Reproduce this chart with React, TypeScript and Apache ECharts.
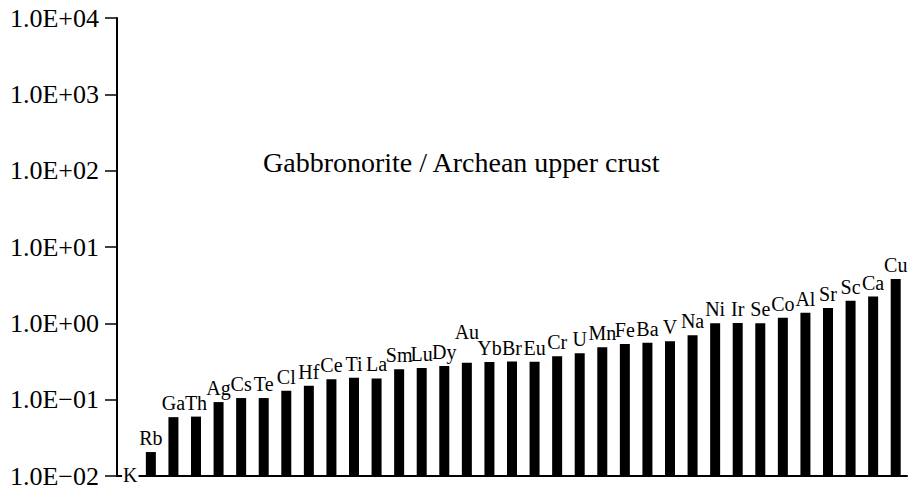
import React, { useEffect, useRef } from "react";
import * as echarts from "echarts";

const elements = ["K","Rb","Ga","Th","Ag","Cs","Te","Cl","Hf","Ce","Ti","La","Sm","Lu","Dy","Au","Yb","Br","Eu","Cr","U","Mn","Fe","Ba","V","Na","Ni","Ir","Se","Co","Al","Sr","Sc","Ca","Cu"];
const ratios = [0.01,0.0206,0.059,0.06,0.093,0.105,0.105,0.131,0.152,0.185,0.194,0.19,0.25,0.26,0.277,0.305,0.312,0.316,0.314,0.37,0.405,0.486,0.537,0.558,0.582,0.698,1.0,1.01,1.0,1.18,1.38,1.59,1.97,2.24,3.82];
const titleText = "Gabbronorite / Archean upper crust";

const SERIF = "'Liberation Serif', 'Times New Roman', serif";

export default function App() {
  const ref = useRef<HTMLDivElement>(null);
  useEffect(() => {
    if (!ref.current) return;
    const chart = echarts.init(ref.current, undefined, { renderer: "svg" });
    const data = elements.map((name, i) => {
      const item: any = { name, value: ratios[i] };
      if (name === "K") {
        item.label = { offset: [2, 13], backgroundColor: "#fff", padding: [0, 1] };
      } else if (name === "Au") {
        item.label = { offset: [0, -17] };
      }
      return item;
    });
    chart.setOption({
      animation: false,
      backgroundColor: "#fff",
      title: {
        text: titleText,
        left: 258,
        top: 143,
        textStyle: { fontFamily: SERIF, fontSize: 28, fontWeight: "normal", color: "#000" },
      },
      grid: { left: 117, right: 2, top: 18, bottom: 16, containLabel: false },
      xAxis: {
        type: "category",
        data: elements,
        axisLine: { show: true, lineStyle: { color: "#000", width: 2 } },
        axisTick: { show: false },
        axisLabel: { show: false },
        splitLine: { show: false },
      },
      yAxis: {
        type: "log",
        logBase: 10,
        min: 0.01,
        max: 10000,
        startValue: 0.01,
        interval: 1,
        axisLine: { show: true, lineStyle: { color: "#000", width: 2 } },
        axisTick: { show: true, length: 12, lineStyle: { color: "#000", width: 1.5 } },
        axisLabel: {
          fontFamily: SERIF,
          fontSize: 26,
          color: "#000",
          margin: 18,
          formatter: (v: number) => {
            const e = Math.round(Math.log10(v));
            const sign = e < 0 ? "\u2212" : "+";
            const a = Math.abs(e);
            return "1.0E" + sign + (a < 10 ? "0" + a : String(a));
          },
        },
        splitLine: { show: false },
        minorTick: { show: false },
      },
      series: [
        {
          type: "bar",
          data,
          barWidth: 10,
          itemStyle: { color: "#000" },
          label: {
            show: true,
            position: "top",
            distance: 4,
            formatter: "{b}",
            fontFamily: SERIF,
            fontSize: 20,
            color: "#000",
          },
        },
      ],
    });
    return () => chart.dispose();
  }, []);
  return (
    <div
      ref={ref}
      style={{ position: "fixed", left: 0, top: 0, width: 909, height: 492, background: "#fff" }}
    />
  );
}
